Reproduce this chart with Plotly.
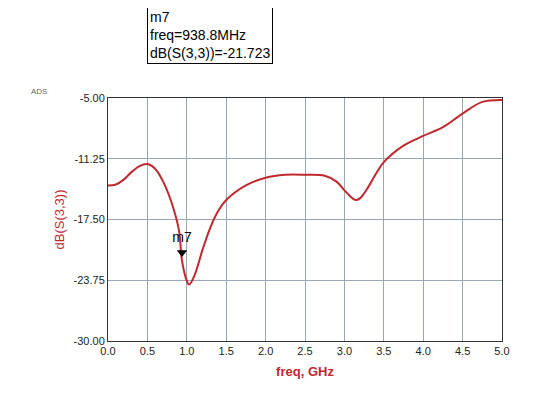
import plotly.graph_objects as go

freq = [0.0, 0.1, 0.2, 0.3, 0.4, 0.5, 0.6, 0.7, 0.8, 0.9, 0.9388, 1.0, 1.03, 1.1, 1.2, 1.3, 1.4, 1.5, 1.75, 2.0, 2.25, 2.5, 2.75, 2.9, 3.0, 3.1, 3.15, 3.2, 3.3, 3.4, 3.5, 3.75, 4.0, 4.25, 4.5, 4.75, 5.0]
db = [-14.0, -13.9, -13.4, -12.6, -12.0, -11.8, -12.3, -13.6, -15.6, -18.6, -21.723, -23.8, -24.2, -23.2, -20.6, -18.3, -16.6, -15.5, -14.0, -13.2, -12.9, -12.9, -13.0, -13.6, -14.5, -15.3, -15.5, -15.3, -14.2, -12.8, -11.6, -9.9, -8.9, -8.0, -6.6, -5.4, -5.2]
xticks = [0.0, 0.5, 1.0, 1.5, 2.0, 2.5, 3.0, 3.5, 4.0, 4.5, 5.0]
yticks = [-30.0, -23.75, -17.5, -11.25, -5.0]

red = "#c0282e"
fig = go.Figure()
fig.add_trace(go.Scatter(x=freq, y=db, mode="lines", line=dict(color=red, width=2, shape="spline"), showlegend=False))
fig.add_trace(go.Scatter(x=[0.9388], y=[-20.9], mode="markers+text", marker=dict(symbol="triangle-down", color="black", size=9),
                         text=["m7"], textposition="top center", textfont=dict(size=14, color="black", family="Arial"), showlegend=False))
fig.update_layout(
    width=540, height=403, margin=dict(l=100, r=46, t=90, b=70),
    paper_bgcolor="white", plot_bgcolor="white",
    font=dict(family="Arial", color="#222", size=11),
    xaxis=dict(range=[0, 5], tickvals=xticks, ticktext=[f"{v:.1f}" for v in xticks], showgrid=True, gridcolor="#9aa5b5",
               showline=True, linecolor="#333", mirror=True, zeroline=False, tickfont=dict(size=11), automargin=False,
               title=dict(text="<b>freq, GHz</b>", font=dict(color=red, size=13), standoff=10)),
    yaxis=dict(range=[-30, -5], tickvals=yticks, ticktext=[f"{v:.2f}" for v in yticks], showgrid=True, gridcolor="#9aa5b5",
               showline=True, linecolor="#333", mirror=True, zeroline=False, tickfont=dict(size=11), automargin=False,
               title=dict(text="dB(S(3,3))", font=dict(color=red, size=13), standoff=6)),
    annotations=[
        dict(xref="paper", yref="paper", x=-0.2, y=1.0, xanchor="left", yanchor="bottom", showarrow=False,
             text="ADS", font=dict(size=8, color="#666")),
        dict(xref="paper", yref="paper", x=0.1, y=1.14, xanchor="left", yanchor="bottom", showarrow=False, align="left",
             text="m7<br>freq=938.8MHz<br>dB(S(3,3))=-21.723", font=dict(size=14, color="black"),
             bordercolor="black", borderwidth=1, bgcolor="white", borderpad=2),
    ],
)
fig.write_html("out.html")
